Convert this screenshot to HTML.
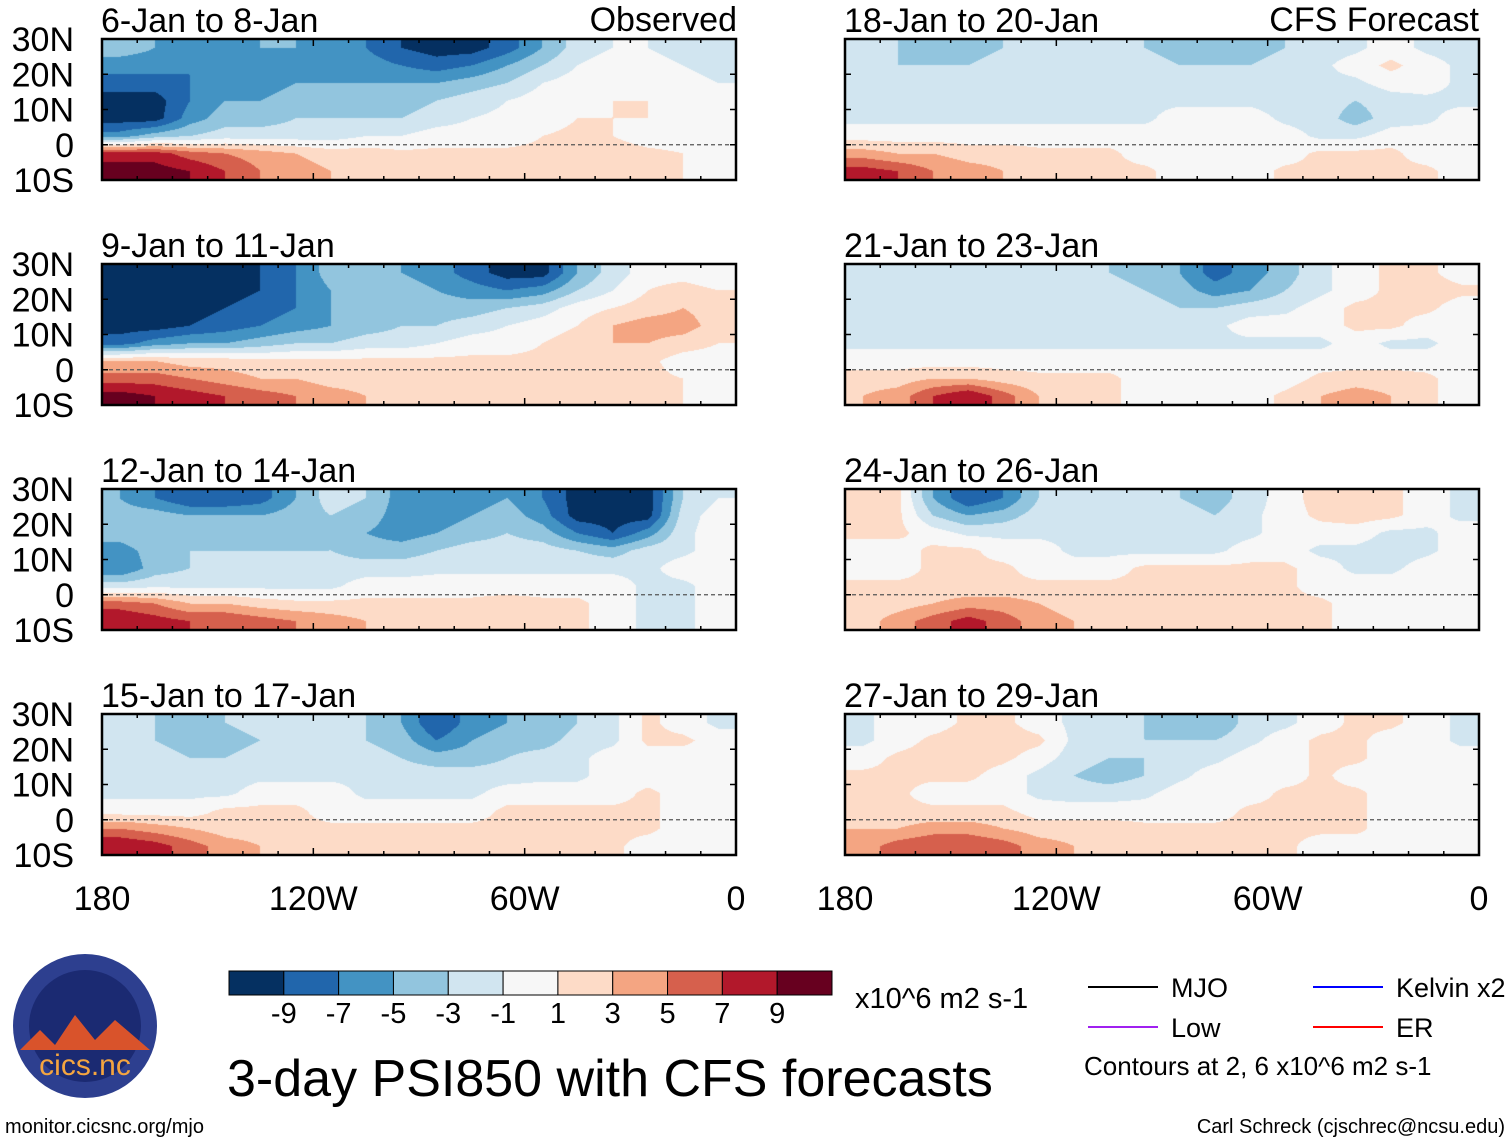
<!DOCTYPE html>
<html><head><meta charset="utf-8">
<style>
body{margin:0;width:1510px;height:1142px;background:#fff;overflow:hidden;position:relative;font-family:"Liberation Sans",sans-serif;}
canvas{position:absolute;}
</style></head>
<body>
<svg id="ov" width="1510" height="1142" style="position:absolute;left:0;top:0"></svg>
<script>
const panelTitles=["6-Jan to 8-Jan","9-Jan to 11-Jan","12-Jan to 14-Jan","15-Jan to 17-Jan","18-Jan to 20-Jan","21-Jan to 23-Jan","24-Jan to 26-Jan","27-Jan to 29-Jan"];
const latTicks=["30N","20N","10N","0","10S"];
const lonTicks=["180","120W","60W","0"];
const binEdges=[-9,-7,-5,-3,-1,1,3,5,7,9];
const binColors=["#053061","#2166ac","#4393c3","#92c5de","#d1e5f0","#f7f7f7","#fddbc7","#f4a582","#d6604d","#b2182b","#67001f"];
const cbLabels=["-9","-7","-5","-3","-1","1","3","5","7","9"];
const p1=[[-4,-5,-6,-6,-5,-5,-6,-7,-9,-10,-10,-8,-5,-2,-1,-1,-2,-2],[-6,-6,-7,-7,-6,-6,-6,-6,-7,-8,-7,-5,-3,-1,0,0,-1,-2],[-8,-8,-7,-6,-6,-5,-5,-5,-5,-5,-4,-3,-1,0,0,0,0,-1],[-10,-10,-7,-5,-5,-4,-4,-4,-4,-3,-2,-1,0,0,1,1,0,0],[-10,-10,-6,-4,-4,-3,-3,-3,-3,-2,-1,-0.5,0,1,1,1,0,0],[-6,-4,-3,-2,-2,-2,-2,-1,-1,0,0,0,1,1.5,1,0,0,0],[8,8,6,5,4,3,2,2,1.5,1.5,1.5,1.5,1.5,2,2,1.5,1,0],[10,10,9,7,5,4,3,2,2,1.5,1.5,2,2,2,1.5,1.5,1,0]];
const p2=[[-10,-10,-10,-10,-9,-7,-4,-4,-5,-6,-8,-10,-10,-5,-2,0,0,-1],[-10,-10,-10,-10,-9,-7,-5,-3,-4,-5,-6,-7,-6,-3,-1,1,2,1],[-10,-10,-10,-9,-8,-7,-5,-4,-4,-4,-4,-3,-2,0,1,2,3,2],[-10,-10,-9,-8,-7,-6,-5,-4,-3,-3,-2,-1,0,1,3,4,4,2],[-8,-6,-5,-5,-4,-3,-3,-2,-2,-1,0,0,1,2,3,3,2,1],[3,3,2,2,1.5,1.5,1.5,1.5,1.5,1.5,1.5,1.5,1.5,1.5,1.5,1.5,0,0],[6,6,5,4,3,3,2,2,2,2,1.5,1.5,2,2,1.5,1.5,1,0],[10,9,8,7,6,5,4,3,3,2,2,1.5,2,2,1.5,1.5,1,0]];
const p3=[[-5,-7,-9,-9,-8,-5,-2,-3,-6,-7,-6,-5,-7,-10,-10,-10,-3,-1],[-4,-4,-5,-5,-5,-4,-3,-4,-6,-6,-5,-4,-6,-10,-10,-10,-2,0],[-4,-3,-4,-4,-4,-4,-3,-5,-6,-5,-4,-3,-4,-7,-9,-6,-1.5,0],[-6,-4,-3,-3,-3,-3,-3,-4,-4,-3,-2,-2,-2,-3,-4,-2,-1.5,0],[-7,-4,-3,-2,-2,-2,-2,-2,-2,-1.5,-1.5,-1.5,-1.5,-1.5,-1.5,-1.5,0,0],[-2,-1.5,-1.5,-1.5,-1.5,-1.5,-1.5,0,0,0,0,0,0,0,0,-1.5,-1.5,0],[6,5,3,3,2,1.5,1.5,1.5,1.5,1.5,1.5,2,1.5,1.5,0,-1.5,-1.5,0],[9,8,7,7,6,5,4,3,2,2,2,2,1.5,1.5,0,-1.5,-1.5,0]];
const p4=[[-2,-3,-4,-3,-2,-1.5,-2,-3,-5,-9,-6,-5,-5,-3,-1.5,1.5,0,-1.5],[-2,-3,-4,-4,-3,-2,-1.5,-3,-4,-7,-5,-4,-4,-2,-1.5,1.5,1.5,0],[-2,-2,-3,-3,-2,-1.5,-1.5,-2,-3,-4,-4,-3,-2,-1.5,0,0,0,0],[-1.5,-2,-2,-2,-1.5,-1.5,-1.5,-1.5,-2,-2,-2,-2,-1.5,-1.5,0,0,0,0],[-1.5,-1.5,-1.5,-1.5,0,0,0,-1.5,-1.5,-1.5,-1.5,0,0,0,0,1.5,0,0],[0,0,0,1.5,1.5,1.5,0,0,0,0,0,1.5,1.5,1.5,1.5,1.5,0,0],[5,4,3,2,2,1.5,1.5,1.5,1.5,1.5,1.5,1.5,2,1.5,1.5,1.5,0,0],[9,8,6,4,3,2,2,1.5,1.5,1.5,1.5,1.5,2,1.5,1.5,0,0,0]];
const p5=[[-2,-3,-4,-4,-3,-2,-2,-2,-3,-4,-5,-4,-3,-2,-1.5,0,-1.5,-2],[-2,-3,-3,-3,-2,-2,-2,-2,-2,-3,-3,-3,-2,-1.5,0,1.5,0,-1.5],[-1.5,-2,-2,-2,-2,-1.5,-1.5,-1.5,-1.5,-2,-2,-2,-2,-1.5,-1.5,0,0,-1.5],[-1.5,-1.5,-2,-2,-2,-1.5,-1.5,-1.5,-1.5,-1.5,-1.5,-1.5,-2,-2,-3,-2,-1.5,-1.5],[-1.5,-1.5,-1.5,-1.5,-1.5,-1.5,-1.5,-1.5,-1.5,0,0,0,-1.5,-2,-4,-2,-1.5,0],[0,0,0,0,0,0,0,0,0,0,0,0,0,-1.5,-1.5,0,0,0],[4,3,3,2,2,1.5,1.5,1.5,0,0,0,0,0,1.5,1.5,1.5,0,0],[8,7,5,4,3,2,2,1.5,1.5,0,0,0,1.5,1.5,2,1.5,1.5,0]];
const p6=[[-2,-2,-3,-3,-3,-2,-2,-3,-4,-5,-8,-6,-4,-1.5,0,1.5,1.5,0],[-2,-2,-2,-2,-2,-2,-2,-2,-3,-4,-6,-5,-3,-1.5,0,1.5,2,1.5],[-1.5,-1.5,-1.5,-1.5,-1.5,-1.5,-1.5,-2,-2,-3,-3,-2,-1.5,0,1.5,1.5,1.5,0],[-1.5,-1.5,-1.5,-1.5,-1.5,-1.5,-1.5,-1.5,-1.5,-1.5,-1.5,0,0,0,1.5,1.5,0,0],[-1.5,-1.5,-1.5,-1.5,-1.5,-1.5,-1.5,-1.5,-1.5,-1.5,-1.5,-1.5,-1.5,-1.5,0,-1.5,-1.5,0],[0,0,0,0,0,0,0,0,0,0,0,0,0,0,0,0,0,0],[2,2,3,3,2,1.5,1.5,1.5,0,0,0,0,0,1.5,2,2,1.5,0],[3,4,7,9,6,3,2,1.5,0,0,0,0,1.5,3,4,3,1.5,0]];
const p7=[[1.5,1.5,-5,-9,-7,-3,-1.5,-2,-3,-3,-4,-2,0,2,3,1.5,0,-1.5],[1.5,1.5,-3,-5,-4,-2,-1.5,-1.5,-2,-2,-3,-1.5,0,1.5,2,1.5,0,-1.5],[1.5,1.5,0,-1.5,-1.5,-1.5,-1.5,-1.5,-1.5,-2,-2,-1.5,0,0,0,-1.5,-1.5,0],[0,0,1.5,1.5,0,0,-1.5,-1.5,-1.5,-1.5,-1.5,0,0,-1.5,-1.5,-2,-1.5,0],[0,0,1.5,1.5,1.5,0,0,0,1.5,1.5,1.5,1.5,1.5,0,-1.5,-1.5,0,0],[1.5,1.5,1.5,1.5,1.5,1.5,1.5,1.5,1.5,2,2,1.5,1.5,0,0,0,0,0],[2,2,3,4,4,3,2,2,2,2,2,2,1.5,1.5,0,0,0,0],[2,4,6,8,6,4,3,2,2,2,2,2,1.5,1.5,0,0,0,0]];
const p8=[[-1.5,0,0,1.5,1.5,0,-1.5,-2,-3,-5,-5,-2,-1.5,0,1.5,1.5,0,-1.5],[-1.5,0,1.5,2,2,1.5,-1.5,-2,-3,-3,-3,-1.5,0,1.5,1.5,0,0,-1.5],[0,1.5,2,2,1.5,0,-2,-3,-3,-2,-1.5,0,0,1.5,1.5,0,0,0],[1.5,1.5,1.5,1.5,0,-1.5,-3,-4,-3,-1.5,0,0,0,1.5,0,0,0,0],[1.5,1.5,0,0,0,-1.5,-2,-2,-1.5,0,0,0,1.5,1.5,1.5,0,0,0],[1.5,1.5,1.5,1.5,1.5,0,0,0,0,0,0,1.5,1.5,1.5,1.5,0,0,0],[3,3,4,4,3,2,2,2,1.5,1.5,1.5,1.5,1.5,1.5,1.5,0,0,0],[4,6,7,7,6,4,3,2,1.5,1.5,1.5,1.5,1.5,0,0,0,0,0]];
const fields=[p1,p2,p3,p4,p5,p6,p7,p8];

const PW=634,PH=141,lefts=[102,845],tops=[39,264,489,714];
function xScale(x0,lon){return x0+(180-lon)/180*PW;}
function yScale(y0,lat){return y0+(30-lat)/40*PH;}
function colorOf(v){let i=0;while(i<binEdges.length&&v>=binEdges[i])i++;return binColors[i];}
function hex(c){return [parseInt(c.slice(1,3),16),parseInt(c.slice(3,5),16),parseInt(c.slice(5,7),16)];}
const NS="http://www.w3.org/2000/svg";
const ov=document.getElementById('ov');
function sv(tag,attrs,parent){const e=document.createElementNS(NS,tag);for(const k in attrs)e.setAttribute(k,attrs[k]);(parent||ov).appendChild(e);return e;}
function txt(x,y,s,size,anchor,name){const t=sv('text',{x:x,y:y,'font-size':size,'text-anchor':anchor||'start','font-family':'Liberation Sans, sans-serif',fill:'#000'});t.textContent=s;


return t;}
function smooth(t){return t*t*(3-2*t);}

fields.forEach((f,k)=>{
  const col=k<4?0:1,row=k%4,x0=lefts[col],y0=tops[row];
  const cv=document.createElement('canvas');cv.width=PW;cv.height=PH;cv.style.left=x0+'px';cv.style.top=y0+'px';
  
  
  document.body.insertBefore(cv,ov);
  const ctx=cv.getContext('2d');const img=ctx.createImageData(PW,PH);
  const nr=f.length,nc=f[0].length;
  for(let py=0;py<PH;py++){for(let px=0;px<PW;px++){
    let fx=(px+0.5)/PW*nc-0.5,fy=(py+0.5)/PH*nr-0.5;
    fx=Math.max(0,Math.min(nc-1.001,fx));fy=Math.max(0,Math.min(nr-1.001,fy));
    const i=Math.floor(fx),j=Math.floor(fy),a=fx-i,b=fy-j;
    let v=f[j][i]*(1-a)*(1-b)+f[j][i+1]*a*(1-b)+f[j+1][i]*(1-a)*b+f[j+1][i+1]*a*b;
    v=Math.round(v*1000)/1000;
    const c=hex(colorOf(v));const o=(py*PW+px)*4;
    img.data[o]=c[0];img.data[o+1]=c[1];img.data[o+2]=c[2];img.data[o+3]=255;}}
  ctx.putImageData(img,0,0);
  const eq=sv('line',{x1:x0,x2:x0+PW,y1:yScale(y0,0),y2:yScale(y0,0),stroke:'#555','stroke-width':1.2,'stroke-dasharray':'4,3'});
  
  
  for(let lon=0;lon<=180;lon+=10){const x=xScale(x0,lon);const L=lon%60===0?7:4;
    sv('line',{x1:x,x2:x,y1:y0,y2:y0+L,stroke:'#000','stroke-width':1.5});
    sv('line',{x1:x,x2:x,y1:y0+PH,y2:y0+PH-L,stroke:'#000','stroke-width':1.5});}
  for(let lat=-10;lat<=30;lat+=10){const y=yScale(y0,lat);
    sv('line',{x1:x0,x2:x0+6,y1:y,y2:y,stroke:'#000','stroke-width':1.5});
    sv('line',{x1:x0+PW,x2:x0+PW-6,y1:y,y2:y,stroke:'#000','stroke-width':1.5});}
  const fr=sv('rect',{x:x0,y:y0,width:PW,height:PH,fill:'none',stroke:'#000','stroke-width':2.5});
  
  
  txt(x0-1,y0-7,panelTitles[k],34,'start','panel-title');
  if(col===0){latTicks.forEach((s,i)=>txt(74,yScale(y0,30-10*i)+12,s,34,'end','lat-label'));}
});
txt(737,31,"Observed",34,'end','observed-label');
txt(1479,31,"CFS Forecast",34,'end','forecast-label');
lefts.forEach(x0=>{lonTicks.forEach((s,i)=>txt(xScale(x0,180-60*i),910,s,34,'middle','lon-label'));});
const cbX=229,cbW=603,cbY=971,cbH=24,n=binColors.length,bw=cbW/n;
binColors.forEach((c,i)=>{const r=sv('rect',{x:cbX+i*bw,y:cbY,width:bw,height:cbH,fill:c,stroke:'#000','stroke-width':1});
  
  });
cbLabels.forEach((s,i)=>txt(cbX+(i+1)*bw,1023,s,29,'middle','colorbar-label'));
txt(855,1008,"x10^6 m2 s-1",29,'start','units-label');
txt(227,1096,"3-day PSI850 with CFS forecasts",52,'start','main-title');
const leg=[["MJO","#000",1088,987],["Low","#a020f0",1088,1027],["Kelvin x2","#0000ff",1313,987],["ER","#ff0000",1313,1027]];
leg.forEach(l=>{sv('line',{x1:l[2],x2:l[2]+70,y1:l[3],y2:l[3],stroke:l[1],'stroke-width':2});txt(l[2]+83,l[3]+10,l[0],27,'start','legend-entry');});
txt(1084,1075,"Contours at 2, 6 x10^6 m2 s-1",26,'start','contour-note');
txt(5,1133,"monitor.cicsnc.org/mjo",20,'start','url-footer');
txt(1505,1133,"Carl Schreck (cjschrec@ncsu.edu)",20,'end','author-footer');
const g=sv('g',{});
sv('circle',{cx:85,cy:1026,r:72,fill:'#2d3f8f'},g);
sv('circle',{cx:85,cy:1026,r:56,fill:'#1b2a72'},g);
sv('path',{d:'M20 1050 L40 1030 L55 1045 L75 1015 L95 1040 L115 1020 L150 1050 Z',fill:'#d9532b'},g);
const lt=sv('text',{x:85,y:1075,'font-size':30,'text-anchor':'middle',fill:'#f4a540','font-family':'Liberation Sans, sans-serif'},g);lt.textContent="cics.nc";
</script>
</body></html>
